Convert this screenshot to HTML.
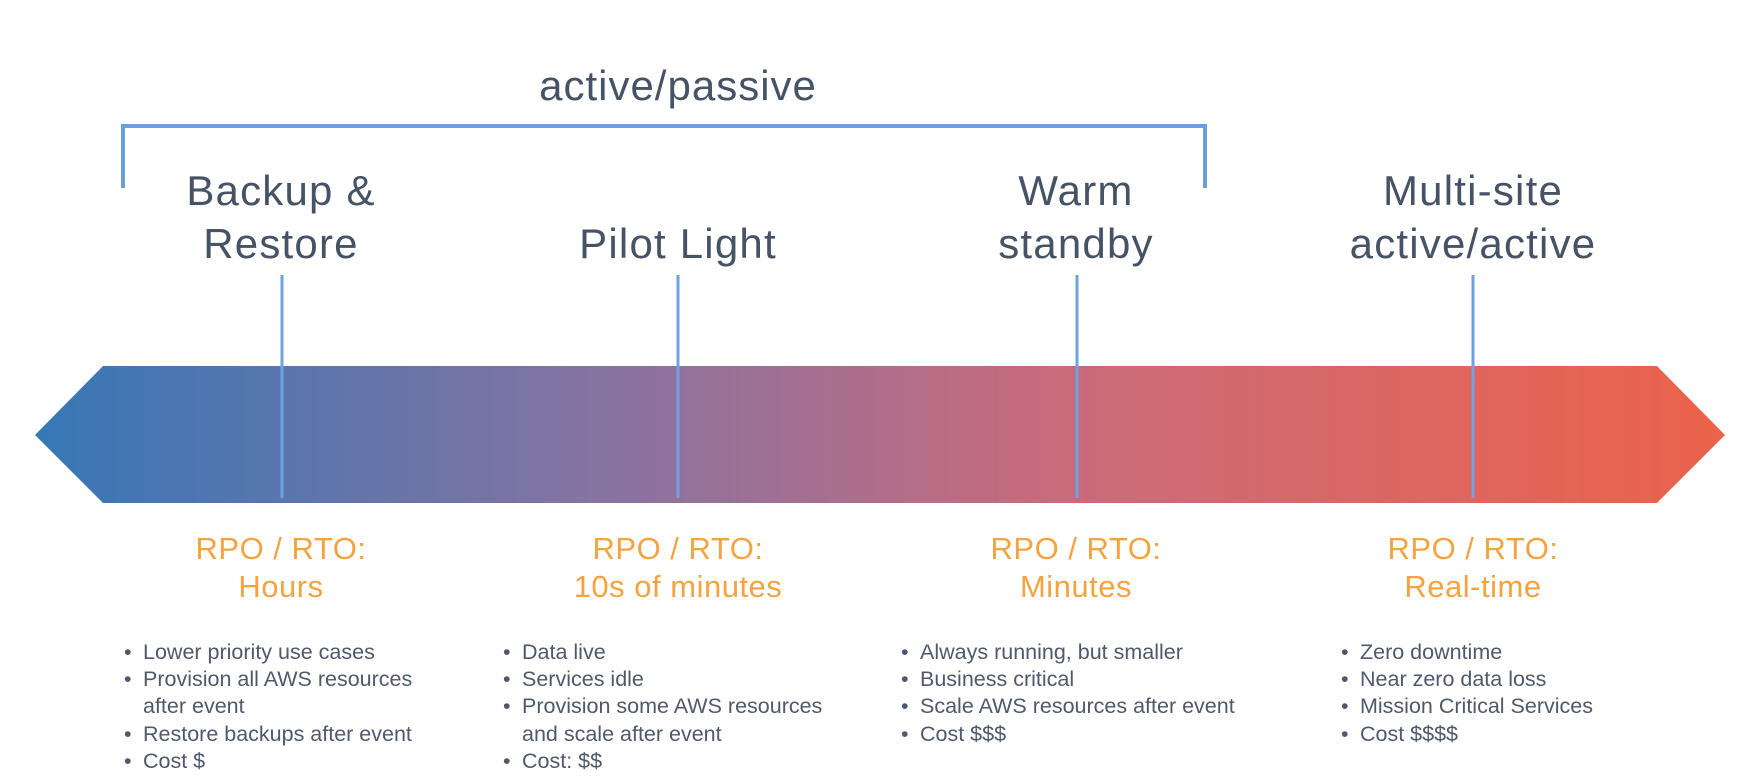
<!DOCTYPE html>
<html><head><meta charset="utf-8">
<style>
html,body{margin:0;padding:0;background:#fff;}
body{width:1758px;height:780px;position:relative;overflow:hidden;font-family:"Liberation Sans",sans-serif;}
svg{position:absolute;left:0;top:0;}
</style></head>
<body>
<svg width="1758" height="780" viewBox="0 0 1758 780">
<defs>
<linearGradient id="g" x1="35" y1="0" x2="1725" y2="0" gradientUnits="userSpaceOnUse">
<stop offset="0" stop-color="#3777b6"/>
<stop offset="0.35" stop-color="#8a73a0"/>
<stop offset="0.6" stop-color="#c86b7c"/>
<stop offset="1" stop-color="#ec624a"/>
</linearGradient>
</defs>
<text x="678" y="100" text-anchor="middle" font-size="42" letter-spacing="1" fill="#465265">active/passive</text>
<polyline points="123,188 123,126 1205,126 1205,188" fill="none" stroke="#6b9fdc" stroke-width="4"/>
<polygon points="35,435 103,366 1657,366 1725,435 1657,503 103,503" fill="url(#g)"/>
<g stroke="#6fa2e0" stroke-width="3">
<line x1="282" y1="275" x2="282" y2="498"/>
<line x1="678" y1="275" x2="678" y2="498"/>
<line x1="1077" y1="275" x2="1077" y2="498"/>
<line x1="1473" y1="275" x2="1473" y2="498"/>
</g>
<g font-size="42" letter-spacing="1.2" fill="#465265" text-anchor="middle">
<text x="281" y="205">Backup &amp;</text>
<text x="281" y="258">Restore</text>
<text x="678" y="258">Pilot Light</text>
<text x="1076" y="205">Warm</text>
<text x="1076" y="258">standby</text>
<text x="1473" y="205">Multi-site</text>
<text x="1473" y="258">active/active</text>
</g>
<g font-size="31" letter-spacing="0.5" fill="#f4a340" text-anchor="middle">
<text x="281" y="559">RPO / RTO:</text>
<text x="281" y="597">Hours</text>
<text x="678" y="559">RPO / RTO:</text>
<text x="678" y="597">10s of minutes</text>
<text x="1076" y="559">RPO / RTO:</text>
<text x="1076" y="597">Minutes</text>
<text x="1473" y="559">RPO / RTO:</text>
<text x="1473" y="597">Real-time</text>
</g>
<g font-size="21.5" fill="#4f596b">
<g>
<text x="124" y="659">•</text><text x="143" y="659">Lower priority use cases</text>
<text x="124" y="686">•</text><text x="143" y="686">Provision all AWS resources</text>
<text x="143" y="713">after event</text>
<text x="124" y="741">•</text><text x="143" y="741">Restore backups after event</text>
<text x="124" y="768">•</text><text x="143" y="768">Cost $</text>
</g>
<g>
<text x="503" y="659">•</text><text x="522" y="659">Data live</text>
<text x="503" y="686">•</text><text x="522" y="686">Services idle</text>
<text x="503" y="713">•</text><text x="522" y="713">Provision some AWS resources</text>
<text x="522" y="741">and scale after event</text>
<text x="503" y="768">•</text><text x="522" y="768">Cost: $$</text>
</g>
<g>
<text x="901" y="659">•</text><text x="920" y="659">Always running, but smaller</text>
<text x="901" y="686">•</text><text x="920" y="686">Business critical</text>
<text x="901" y="713">•</text><text x="920" y="713">Scale AWS resources after event</text>
<text x="901" y="741">•</text><text x="920" y="741">Cost $$$</text>
</g>
<g>
<text x="1341" y="659">•</text><text x="1360" y="659">Zero downtime</text>
<text x="1341" y="686">•</text><text x="1360" y="686">Near zero data loss</text>
<text x="1341" y="713">•</text><text x="1360" y="713">Mission Critical Services</text>
<text x="1341" y="741">•</text><text x="1360" y="741">Cost $$$$</text>
</g>
</g>
</svg>
</body></html>
